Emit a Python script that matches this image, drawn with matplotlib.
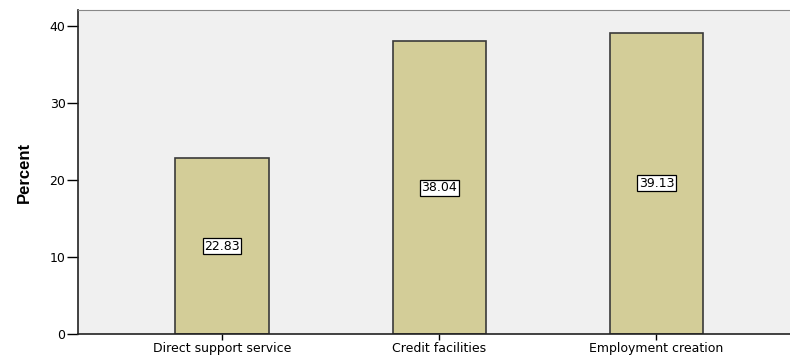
import matplotlib
matplotlib.use('Agg')
import matplotlib.pyplot as plt
from matplotlib import font_manager

categories = ['Direct support service', 'Credit facilities', 'Employment creation']
percent = [22.83, 38.04, 39.13]
yticks = [0, 10, 20, 30, 40]

plt.rcParams['font.family'] = ['DejaVu Sans']
narrow = 'Liberation Sans Narrow'
names = {f.name for f in font_manager.fontManager.ttflist}
if narrow not in names:
    narrow = 'Liberation Sans'

fig = plt.figure(figsize=(7.9, 3.57), dpi=100)
ax = fig.add_axes([78/790, 1 - 334/357, 1 - 78/790, (334 - 10)/357])
ax.set_facecolor('#f0f0f0')

x = list(range(len(categories)))
ax.bar(x, percent, width=0.43, color='#d3cd98', edgecolor='#3a3a3a', linewidth=1.2, zorder=2)

for xi, v in zip(x, percent):
    ax.text(xi, v / 2, '%.2f' % v, ha='center', va='center', fontsize=9, zorder=3,
            bbox=dict(boxstyle='square,pad=0.12', facecolor='white', edgecolor='black', linewidth=0.9))

ax.set_xlim(-0.664, 2.615)
ax.set_ylim(0, 42.08)
ax.set_yticks(yticks)
ax.set_xticks(x)
ax.set_xticklabels(categories, fontsize=9)
ax.tick_params(axis='y', labelsize=9, length=8, width=1, pad=1)
ax.tick_params(axis='x', length=4, width=1, pad=2)

ax.set_ylabel('Percent', fontsize=12, fontweight='bold', family=narrow, labelpad=13)

for side in ['left', 'bottom']:
    ax.spines[side].set_color('#222222')
    ax.spines[side].set_linewidth(1.2)
ax.spines['top'].set_color('#888888')
ax.spines['right'].set_visible(False)

fig.savefig('out.png', dpi=100, facecolor='white')
